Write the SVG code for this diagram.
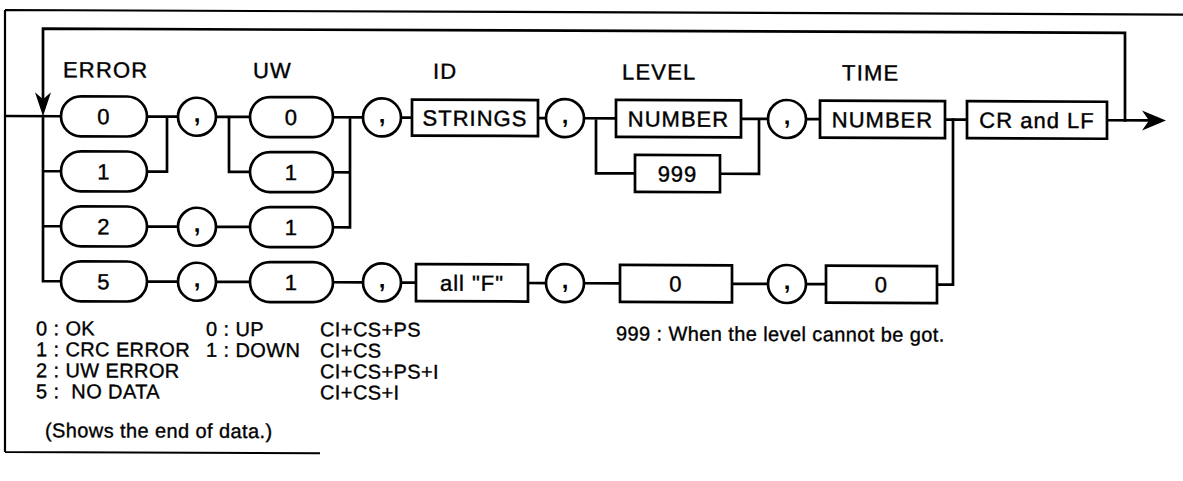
<svg xmlns="http://www.w3.org/2000/svg" width="1183" height="481" viewBox="0 0 1183 481">
<defs>
<style>
.ln{fill:none;stroke:#000;stroke-width:2.7;stroke-linecap:square}
.fr{fill:none;stroke:#000;stroke-width:2.2}
.ov{fill:#fff;stroke:#000;stroke-width:2.7}
.bx{fill:#fff;stroke:#000;stroke-width:2.7}
.t{font-family:"Liberation Sans",Arial,Helvetica,sans-serif;font-size:22px;letter-spacing:1px;fill:#000;stroke:#000;stroke-width:0.4}
.c{text-anchor:middle}
.lb{font-family:"Liberation Sans",Arial,Helvetica,sans-serif;font-size:22px;letter-spacing:1.2px;fill:#000;stroke:#000;stroke-width:0.4}
.lg{font-family:"Liberation Sans",Arial,Helvetica,sans-serif;font-size:20px;letter-spacing:0.4px;fill:#000;stroke:#000;stroke-width:0.35;white-space:pre}
.cm{font-family:"Liberation Sans",Arial,Helvetica,sans-serif;font-size:24px;font-weight:bold;text-anchor:middle;fill:#000}
</style>
</defs>
<rect width="1183" height="481" fill="#fff"/>
<g transform="skewY(0.22)">
<g id="frame">
<path class="fr" d="M5,10 H1183 M5,10 V452 M5,452 H320"/>
</g>
<g id="connectors">
<path class="ln" d="M6,116 H61 M43,116 V281 H61 M43,171 H61 M43,226 H61"/>
<path class="ln" d="M43,98 V28.5 H1125 V116"/>
<path class="ln" d="M147,116 H178 M147,171 H167 V116"/>
<path class="ln" d="M216,116 H250 M229,116 V171 H250"/>
<path class="ln" d="M333,116 H363 M333,171 H350 M333,226 H350 M350,116 V226"/>
<path class="ln" d="M147,226 H178 M216,226 H249"/>
<path class="ln" d="M401,116 H412 M538,116 H546 M584,116 H616 M596,116 V171 H635 M720,171 H759 V116 M741,116 H768 M806,116 H820 M945,116 H967 M1107,116 H1150"/>
<path class="ln" d="M147,281 H178 M216,281 H249 M333,281 H363 M401,281 H416 M528,281 H546 M584,281 H620 M732,281 H768 M806,281 H826 M937,281 H953 V116"/>
<polygon points="43,116 35,92 43,99 51,92" fill="#000"/>
<polygon points="1166,116 1142,106 1149,116 1142,126" fill="#000"/>
</g>
<g id="labels">
<text class="lb" x="63" y="77">ERROR</text>
<text class="lb" x="253" y="77">UW</text>
<text class="lb" x="433" y="77">ID</text>
<text class="lb" x="622" y="77">LEVEL</text>
<text class="lb" x="842" y="77">TIME</text>
</g>
<g id="err0"><rect class="ov" x="61" y="96" width="86" height="40" rx="20"/><text class="t c" x="104" y="124">0</text></g>
<g id="err1"><rect class="ov" x="61" y="151" width="86" height="40" rx="20"/><text class="t c" x="104" y="179">1</text></g>
<g id="err2"><rect class="ov" x="61" y="206" width="86" height="40" rx="20"/><text class="t c" x="104" y="234">2</text></g>
<g id="err5"><rect class="ov" x="61" y="261" width="86" height="40" rx="20"/><text class="t c" x="104" y="289">5</text></g>
<g id="uw0"><rect class="ov" x="250" y="96" width="83" height="40" rx="20"/><text class="t c" x="291.5" y="124">0</text></g>
<g id="uw1a"><rect class="ov" x="250" y="151" width="83" height="40" rx="20"/><text class="t c" x="291.5" y="179">1</text></g>
<g id="uw1b"><rect class="ov" x="250" y="206" width="83" height="40" rx="20"/><text class="t c" x="291.5" y="234">1</text></g>
<g id="uw1c"><rect class="ov" x="250" y="261" width="83" height="40" rx="20"/><text class="t c" x="291.5" y="289">1</text></g>
<g id="comma1"><circle class="ov" cx="197" cy="116" r="19"/><text class="cm" x="197" y="121">,</text></g>
<g id="comma2"><circle class="ov" cx="197" cy="226" r="19"/><text class="cm" x="197" y="231">,</text></g>
<g id="comma3"><circle class="ov" cx="197" cy="281" r="19"/><text class="cm" x="197" y="286">,</text></g>
<g id="comma4"><circle class="ov" cx="382" cy="116" r="19"/><text class="cm" x="382" y="121">,</text></g>
<g id="comma5"><circle class="ov" cx="382" cy="281" r="19"/><text class="cm" x="382" y="286">,</text></g>
<g id="comma6"><circle class="ov" cx="565" cy="116" r="19"/><text class="cm" x="565" y="121">,</text></g>
<g id="comma7"><circle class="ov" cx="565" cy="281" r="19"/><text class="cm" x="565" y="286">,</text></g>
<g id="comma8"><circle class="ov" cx="787" cy="116" r="19"/><text class="cm" x="787" y="121">,</text></g>
<g id="comma9"><circle class="ov" cx="787" cy="281" r="19"/><text class="cm" x="787" y="286">,</text></g>
<g id="strings"><rect class="bx" x="412" y="98" width="126" height="36"/><text class="t c" x="475" y="124">STRINGS</text></g>
<g id="level"><rect class="bx" x="616" y="97.5" width="125" height="37"/><text class="t c" x="678.5" y="124">NUMBER</text></g>
<g id="lvl999"><rect class="bx" x="635" y="152.5" width="85" height="37"/><text class="t c" x="677.5" y="179">999</text></g>
<g id="time"><rect class="bx" x="820" y="97.5" width="125" height="37"/><text class="t c" x="882.5" y="124">NUMBER</text></g>
<g id="crlf"><rect class="bx" x="967" y="97.5" width="140" height="37"/><text class="t c" x="1037" y="124">CR and LF</text></g>
<g id="allf"><rect class="bx" x="416" y="262.5" width="112" height="37"/><text class="t c" x="472" y="289">all "F"</text></g>
<g id="lvl0"><rect class="bx" x="620" y="262.5" width="112" height="37"/><text class="t c" x="676" y="289">0</text></g>
<g id="time0"><rect class="bx" x="826" y="262.5" width="111" height="37"/><text class="t c" x="881.5" y="289">0</text></g>
<g id="legend">
<text class="lg" x="36" y="335">0 : OK</text>
<text class="lg" x="36" y="356">1 : CRC ERROR</text>
<text class="lg" x="36" y="377">2 : UW ERROR</text>
<text class="lg" x="36" y="398" xml:space="preserve">5 :  NO DATA</text>
<text class="lg" x="45" y="437">(Shows the end of data.)</text>
<text class="lg" x="206" y="335">0 : UP</text>
<text class="lg" x="206" y="356">1 : DOWN</text>
<text class="lg" x="320" y="335">CI+CS+PS</text>
<text class="lg" x="320" y="356">CI+CS</text>
<text class="lg" x="320" y="377">CI+CS+PS+I</text>
<text class="lg" x="320" y="398">CI+CS+I</text>
<text class="lg" x="616" y="338">999 : When the level cannot be got.</text>
</g>
</g>
</svg>
